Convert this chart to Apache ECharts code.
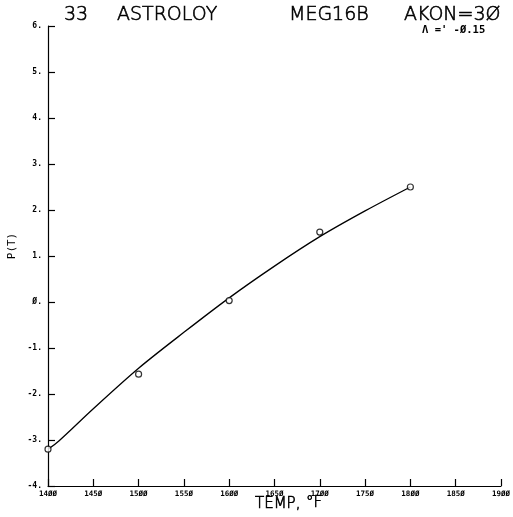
<!DOCTYPE html>
<html>
<head>
<meta charset="utf-8">
<script src="https://cdn.jsdelivr.net/npm/echarts@6/dist/echarts.min.js"></script>
<style>html,body{margin:0;padding:0;background:#fff;}#c{width:513px;height:517px;}</style>
</head>
<body>
<div id="c"></div>
<script>
// Measured data points
var sampleTemps = [1400, 1500, 1600, 1700, 1800];
var sampleValues = [-3.2, -1.57, 0.03, 1.52, 2.5];
// Fitted curve
var curveTemps = [1400, 1412, 1450, 1500, 1550, 1600, 1650, 1700, 1750, 1800];
var curveValues = [-3.2, -3.02, -2.32, -1.44, -0.66, 0.09, 0.78, 1.42, 1.98, 2.5];
// Axis ticks
var xTicks = [1400, 1450, 1500, 1550, 1600, 1650, 1700, 1750, 1800, 1850, 1900];
var yTicks = [-4, -3, -2, -1, 0, 1, 2, 3, 4, 5, 6];

function slash(s){ return String(s).replace(/0/g, 'Ø'); }

var chart = echarts.init(document.getElementById('c'));
var mono = 'DejaVu Sans Mono';
var thin = '200 19px "DejaVu Sans", Roboto, sans-serif';
function ttl(x, y, text, font){
  return {type: 'text', x: x, y: y,
    style: {text: text, font: font, fill: '#000', stroke: '#000', lineWidth: 0.6, verticalAlign: 'middle'}};
}
chart.setOption({
  animation: false,
  backgroundColor: '#ffffff',
  grid: {left: 48, right: 12, top: 26, bottom: 31, containLabel: false},
  xAxis: {
    type: 'value', min: xTicks[0], max: xTicks[xTicks.length - 1], interval: 50,
    axisLine: {show: true, onZero: false, lineStyle: {color: '#000', width: 1.2}},
    axisTick: {show: true, inside: true, length: 7, lineStyle: {color: '#000', width: 1.2}},
    axisLabel: {margin: 4, fontSize: 7.5, fontWeight: 'bold', fontFamily: mono, color: '#000',
      formatter: function(v){ return slash(v); }},
    splitLine: {show: false}
  },
  yAxis: {
    type: 'value', min: yTicks[0], max: yTicks[yTicks.length - 1], interval: 1,
    axisLine: {show: true, onZero: false, lineStyle: {color: '#000', width: 1.2}},
    axisTick: {show: true, inside: true, length: 7, lineStyle: {color: '#000', width: 1.2}},
    axisLabel: {margin: 6, fontSize: 8, fontWeight: 'bold', fontFamily: mono, color: '#000',
      formatter: function(v){ return (v === 0 ? 'Ø' : String(v)) + '.'; }},
    splitLine: {show: false}
  },
  series: [
    {type: 'line', smooth: 0.3, showSymbol: false, symbol: 'none',
     lineStyle: {color: '#000', width: 1.3},
     data: curveTemps.map(function(t, i){ return [t, curveValues[i]]; }), z: 2},
    {type: 'scatter', symbol: 'circle', symbolSize: 6,
     itemStyle: {color: '#fff', borderColor: '#000', borderWidth: 1.2},
     data: sampleTemps.map(function(t, i){ return [t, sampleValues[i]]; }), z: 3}
  ],
  graphic: [
    ttl(64, 15, '33', thin),
    ttl(117, 15, 'ASTROLOY', thin),
    ttl(289, 15, 'MEG16B', thin),
    ttl(404, 15, 'AKON=3Ø', thin),
    {type: 'text', x: 422, y: 30, style: {text: "Λ =' -Ø.15", font: 'bold 10.5px ' + mono, fill: '#000', verticalAlign: 'middle'}},
    ttl(255, 504, 'TEMP,', '200 15px "DejaVu Sans", sans-serif'),
    ttl(306, 503, '°F', '200 15px "DejaVu Sans", sans-serif'),
    {type: 'text', x: 12, y: 246, rotation: Math.PI / 2,
     style: {text: 'P(T)', font: '11px ' + mono, fill: '#000', align: 'center', verticalAlign: 'middle'}}
  ]
});
</script>
</body>
</html>
